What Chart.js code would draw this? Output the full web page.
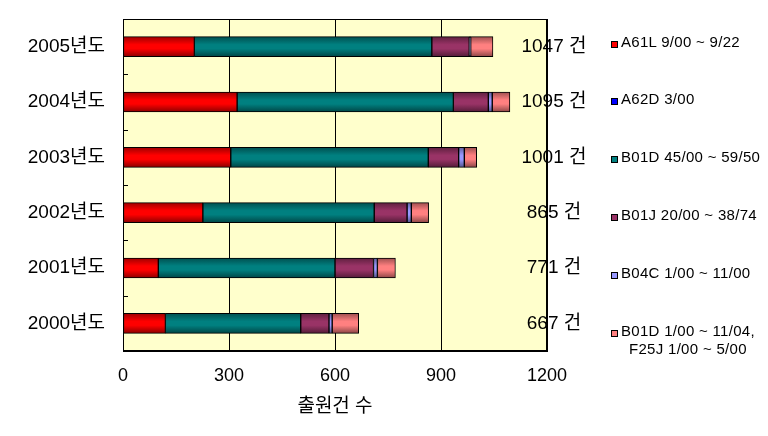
<!DOCTYPE html>
<html>
<head>
<meta charset="utf-8">
<script src="https://cdn.jsdelivr.net/npm/chart.js@4/dist/chart.umd.min.js"></script>
<style>
  html, body { margin: 0; padding: 0; background: #fff; }
  #wrap { position: relative; width: 768px; height: 436px; }
  #legend { position: absolute; left: 0; top: 0; font: 15px 'Liberation Sans', 'Noto Sans CJK KR', sans-serif; color: #000; }
  .item { position: absolute; left: 611px; white-space: pre; line-height: 18px; padding-left: 10px; letter-spacing: 0.3px; }
  .item i { position: absolute; left: 0; top: 8px; width: 5px; height: 5px; border: 1px solid #000; }
  .item .more { padding-left: 8px; }
</style>
</head>
<body>
<div id="wrap">
  <canvas id="chart" width="768" height="436"></canvas>
  <div id="legend"></div>
</div>
<script>
// 연도별 출원건수 (분류별 누적)
const years = ['2005년도', '2004년도', '2003년도', '2002년도', '2001년도', '2000년도'];
const a61l = [202, 323, 305, 226, 100, 120];
const a62d = [0, 0, 0, 0, 0, 0];
const b01d45 = [672, 612, 559, 485, 500, 383];
const b01j = [106, 99, 86, 93, 109, 80];
const b04c = [4, 11, 16, 12, 11, 9];
const b01d1 = [63, 50, 35, 49, 51, 75];
const totals = [1047, 1095, 1001, 865, 771, 667];
const xTicks = [0, 300, 600, 900, 1200];
const seriesNames = [
  'A61L 9/00 ~ 9/22',
  'A62D 3/00',
  'B01D 45/00 ~ 59/50',
  'B01J 20/00 ~ 38/74',
  'B04C 1/00 ~ 11/00',
  'B01D 1/00 ~ 11/04,\nF25J 1/00 ~ 5/00'
];
const seriesData = [a61l, a62d, b01d45, b01j, b04c, b01d1];
const seriesColors = ['#FF0000', '#0000FF', '#008080', '#993366', '#9999FF', '#FF8080'];

const FONT = "'Liberation Sans', 'Noto Sans CJK KR', sans-serif";

function shade(hex, f) {
  const n = parseInt(hex.slice(1), 16);
  const r = Math.round(((n >> 16) & 255) * f);
  const g = Math.round(((n >> 8) & 255) * f);
  const b = Math.round((n & 255) * f);
  return `rgb(${r},${g},${b})`;
}

// 막대 세로 그라데이션 (엑셀 느낌)
function barFill(color) {
  return (c) => {
    const chart = c.chart;
    const y = chart.scales && chart.scales.y;
    if (!y || !chart.chartArea || c.type !== 'data') return color;
    const cy = y.getPixelForValue(c.dataIndex);
    const g = chart.ctx.createLinearGradient(0, cy - 10, 0, cy + 10);
    g.addColorStop(0, shade(color, 0.62));
    g.addColorStop(0.4, color);
    g.addColorStop(0.6, color);
    g.addColorStop(1, shade(color, 0.55));
    return g;
  };
}

const frame = {
  id: 'frame',
  beforeDraw(chart) {
    const { ctx, chartArea: a } = chart;
    ctx.save();
    ctx.fillStyle = '#FFFFCC';
    ctx.fillRect(a.left, a.top, a.right - a.left, a.bottom - a.top);
    ctx.restore();
  },
  afterDatasetsDraw(chart) {
    const { ctx, chartArea: a } = chart;
    const y = chart.scales.y;
    ctx.save();
    ctx.strokeStyle = '#000';
    ctx.lineWidth = 1;
    ctx.strokeRect(Math.round(a.left) + 0.5, Math.round(a.top) + 0.5,
      Math.round(a.right - a.left) - 1, Math.round(a.bottom - a.top) - 1);
    // 안쪽 눈금
    ctx.beginPath();
    for (let i = 0; i < years.length - 1; i++) {
      const py = Math.round(y.getPixelForValue(i + 0.5)) + 0.5;
      ctx.moveTo(a.left, py);
      ctx.lineTo(a.left + 5, py);
    }
    ctx.stroke();
    // 합계 라벨
    ctx.fillStyle = '#000';
    ctx.font = '19px ' + FONT;
    ctx.textAlign = 'center';
    ctx.textBaseline = 'middle';
    totals.forEach((t, i) => {
      ctx.fillText(`${t} 건`, a.right + 7, y.getPixelForValue(i));
    });
    ctx.restore();
  }
};

new Chart(document.getElementById('chart'), {
  type: 'bar',
  data: {
    labels: years,
    datasets: seriesNames.map((name, i) => ({
      label: name,
      data: seriesData[i],
      backgroundColor: barFill(seriesColors[i]),
      borderColor: '#000',
      borderWidth: 1,
      borderSkipped: false,
      barThickness: 20
    }))
  },
  options: {
    indexAxis: 'y',
    responsive: false,
    animation: false,
    layout: { padding: { top: 19, right: 221, left: 0, bottom: 0 } },
    plugins: { legend: { display: false }, tooltip: { enabled: false } },
    scales: {
      x: {
        stacked: true,
        min: 0,
        max: 1200,
        afterBuildTicks: (s) => { s.ticks = xTicks.map((v) => ({ value: v })); },
        afterFit: (s) => { s.height = 85; },
        grid: { color: '#000', drawTicks: false },
        border: { color: '#000' },
        ticks: { color: '#000', font: { size: 18, family: FONT }, padding: 14, callback: (v) => String(v) },
        title: { display: true, text: '출원건 수', color: '#000', font: { size: 19, family: FONT }, padding: { top: 2, bottom: 18 } }
      },
      y: {
        stacked: true,
        afterFit: (s) => { s.width = 123; s.paddingTop = 0; s.paddingBottom = 0; },
        grid: { display: false },
        border: { color: '#000' },
        ticks: { color: '#000', font: { size: 19, family: FONT }, padding: 10 }
      }
    }
  },
  plugins: [frame]
});

// 범례 (HTML)
const legend = document.getElementById('legend');
seriesNames.forEach((name, i) => {
  const d = document.createElement('div');
  d.className = 'item';
  d.style.top = Math.round(32.5 + i * 57.8) + 'px';
  d.innerHTML = `<i style="background:${seriesColors[i]}"></i>`;
  name.split('\n').forEach((line, k) => {
    const s = document.createElement('div');
    if (k > 0) s.className = 'more';
    s.textContent = line;
    d.appendChild(s);
  });
  legend.appendChild(d);
});
</script>
</body>
</html>
